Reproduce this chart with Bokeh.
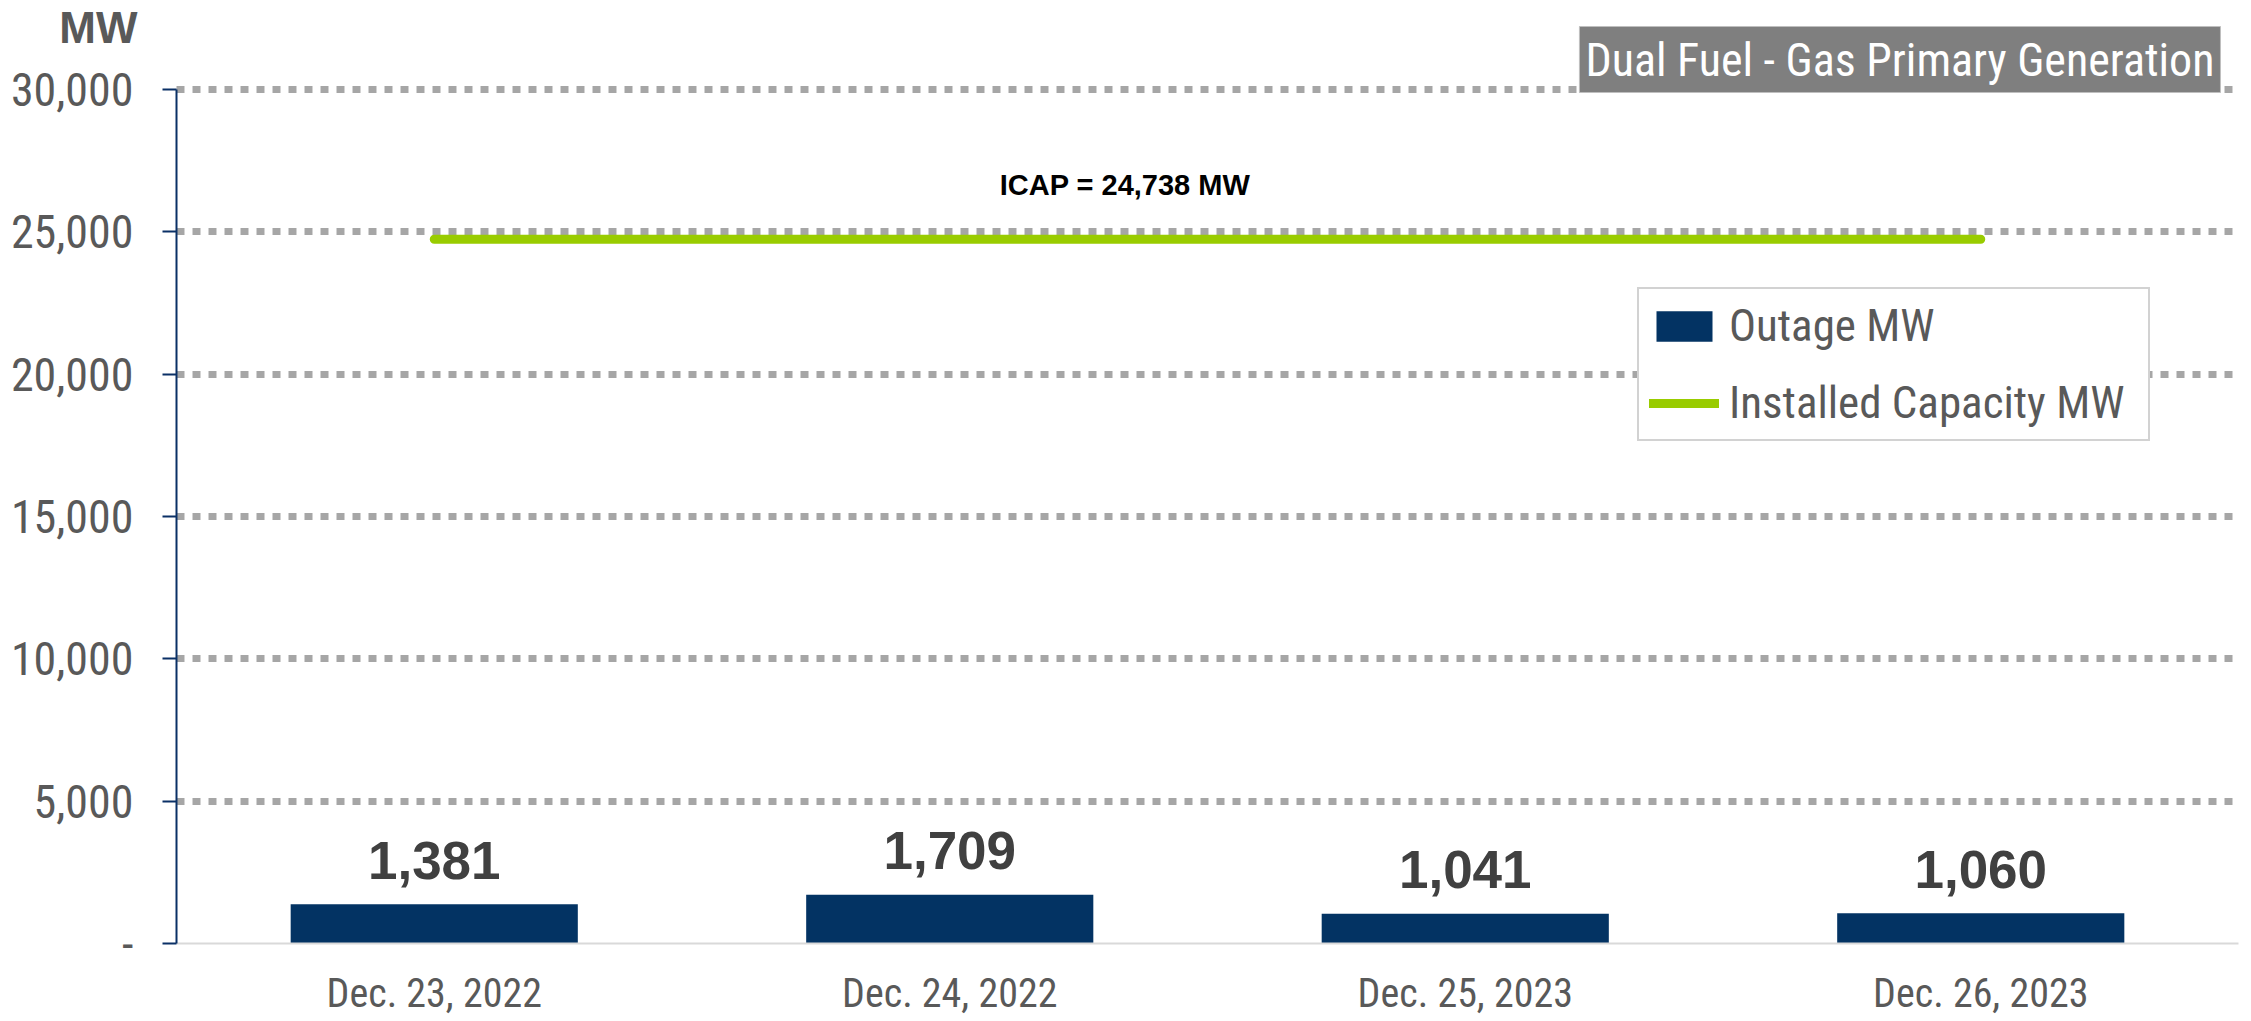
from bokeh.plotting import figure
from bokeh.models import (ColumnDataSource, Range1d, FixedTicker, Label, Legend, LegendItem)
from bokeh.core.properties import value
from bokeh.embed import file_html
from bokeh.resources import INLINE

# ---- data ----
categories = ["Dec. 23, 2022", "Dec. 24, 2022", "Dec. 25, 2023", "Dec. 26, 2023"]
outage_mw = [1381, 1709, 1041, 1060]
icap_mw = 24738
y_ticks = [0, 5000, 10000, 15000, 20000, 25000, 30000]
y_tick_labels = ["-", "5,000", "10,000", "15,000", "20,000", "25,000", "30,000"]
title_text = "Dual Fuel - Gas Primary Generation"
y_unit = "MW"
series_names = ["Outage MW", "Installed Capacity MW"]

NARROW = "Roboto Condensed, Liberation Sans"
SANS = "Liberation Sans"
NAVY = "#033363"
GREEN = "#99CC00"
GREY_TXT = "#595959"

n = len(categories)
cat_pos = [i + 0.5 for i in range(n)]          # category slots 0..n on the x scale

src = ColumnDataSource(dict(
    x=cat_pos,
    mw=outage_mw,
    lbl=[f"{v:,}" for v in outage_mw],
))
line_src = ColumnDataSource(dict(x=cat_pos, icap=[icap_mw] * n))

W, H = 2251, 1021
p = figure(
    x_range=Range1d(-0.3414, n + 0.0252),
    y_range=Range1d(-2740, 33126),
    width=W, height=H,
    output_backend="svg", toolbar_location=None,
    min_border_left=0, min_border_right=0, min_border_top=0, min_border_bottom=0,
)
p.outline_line_color = None
p.background_fill_color = "white"
p.border_fill_color = "white"

# y axis drawn at the left edge of the category slots
p.yaxis.fixed_location = 0
p.yaxis.bounds = (y_ticks[0], y_ticks[-1])
p.yaxis.ticker = FixedTicker(ticks=y_ticks)
p.yaxis.major_label_overrides = {t: l for t, l in zip(y_ticks, y_tick_labels)}
p.yaxis.axis_line_color = "#0A3066"
p.yaxis.axis_line_width = 2
p.yaxis.major_tick_line_color = "#0A3066"
p.yaxis.major_tick_line_width = 2
p.yaxis.major_tick_in = 0
p.yaxis.major_tick_out = 14
p.yaxis.minor_tick_line_color = None
p.yaxis.major_label_standoff = 29
p.yaxis.major_label_text_font = NARROW
p.yaxis.major_label_text_font_size = "46px"
p.yaxis.major_label_text_color = GREY_TXT

# x axis (categories) drawn on the zero line
p.xaxis.fixed_location = 0
p.xaxis.bounds = (0, n)
p.xaxis.ticker = FixedTicker(ticks=cat_pos)
p.xaxis.major_label_overrides = {x: c for x, c in zip(cat_pos, categories)}
p.xaxis.axis_line_color = "#D9D9D9"
p.xaxis.axis_line_width = 2
p.xaxis.major_tick_line_color = None
p.xaxis.major_tick_in = 0
p.xaxis.major_tick_out = 0
p.xaxis.minor_tick_line_color = None
p.xaxis.major_label_standoff = 26
p.xaxis.major_label_text_font = NARROW
p.xaxis.major_label_text_font_size = "40px"
p.xaxis.major_label_text_color = GREY_TXT

# grid
p.xgrid.grid_line_color = None
grid_ticks = y_ticks[1:]
try:
    p.ygrid.cross_bounds = (0, n)
    p.ygrid.ticker = FixedTicker(ticks=grid_ticks)
    p.ygrid.grid_line_color = "#A6A6A6"
    p.ygrid.grid_line_width = 7
    p.ygrid.grid_line_dash = "8 8"
except AttributeError:
    p.ygrid.grid_line_color = None
    p.segment(x0=[0] * len(grid_ticks), x1=[n] * len(grid_ticks), y0=grid_ticks, y1=grid_ticks,
              line_color="#A6A6A6", line_width=7, line_dash="8 8", level="underlay")

# bars
bars = p.vbar(x="x", top="mw", width=0.557, source=src, fill_color=NAVY, line_color=None)
p.text(x="x", y="mw", text="lbl", source=src, y_offset=-44,
       text_align="center", text_baseline="middle",
       text_font=value(SANS), text_font_style="bold", text_font_size="53px",
       text_color="#404040")

# installed capacity line
icap_line = p.line(x="x", y="icap", source=line_src, line_color=GREEN, line_width=9,
                   line_cap="round")

p.add_layout(Label(x=1.84, y=26650, text=f"ICAP = {icap_mw:,} MW",
                   text_align="center", text_baseline="middle",
                   text_font=SANS, text_font_style="bold", text_font_size="29px",
                   text_color="black"))

# unit label
p.add_layout(Label(x=-0.0757, y=32178, text=y_unit, text_align="right",
                   text_baseline="middle", text_font=SANS, text_font_style="bold",
                   text_font_size="44px", text_color=GREY_TXT))

# title box
p.add_layout(Label(x=3.965, y=31053, text=title_text, text_align="right",
                   text_baseline="middle", text_font=NARROW, text_font_size="46px",
                   text_color="white", background_fill_color="#7F7F7F",
                   border_line_color="#BFBFBF", border_line_width=1, padding=6))

legend = Legend(items=[LegendItem(label=series_names[0], renderers=[bars]),
                       LegendItem(label=series_names[1], renderers=[icap_line])],
                location=(1637, 580))
legend.padding = 10
legend.spacing = 24
legend.glyph_width = 70
legend.glyph_height = 38
legend.label_height = 52
legend.label_width = 409
legend.label_standoff = 10
legend.label_text_font = NARROW
legend.label_text_font_size = "45px"
legend.label_text_color = GREY_TXT
legend.border_line_color = "#A6A6A6"
legend.border_line_width = 2
legend.background_fill_color = "white"
legend.background_fill_alpha = 1
legend.margin = 0
p.add_layout(legend, "center")

open("out.html", "w").write(file_html(p, INLINE))
